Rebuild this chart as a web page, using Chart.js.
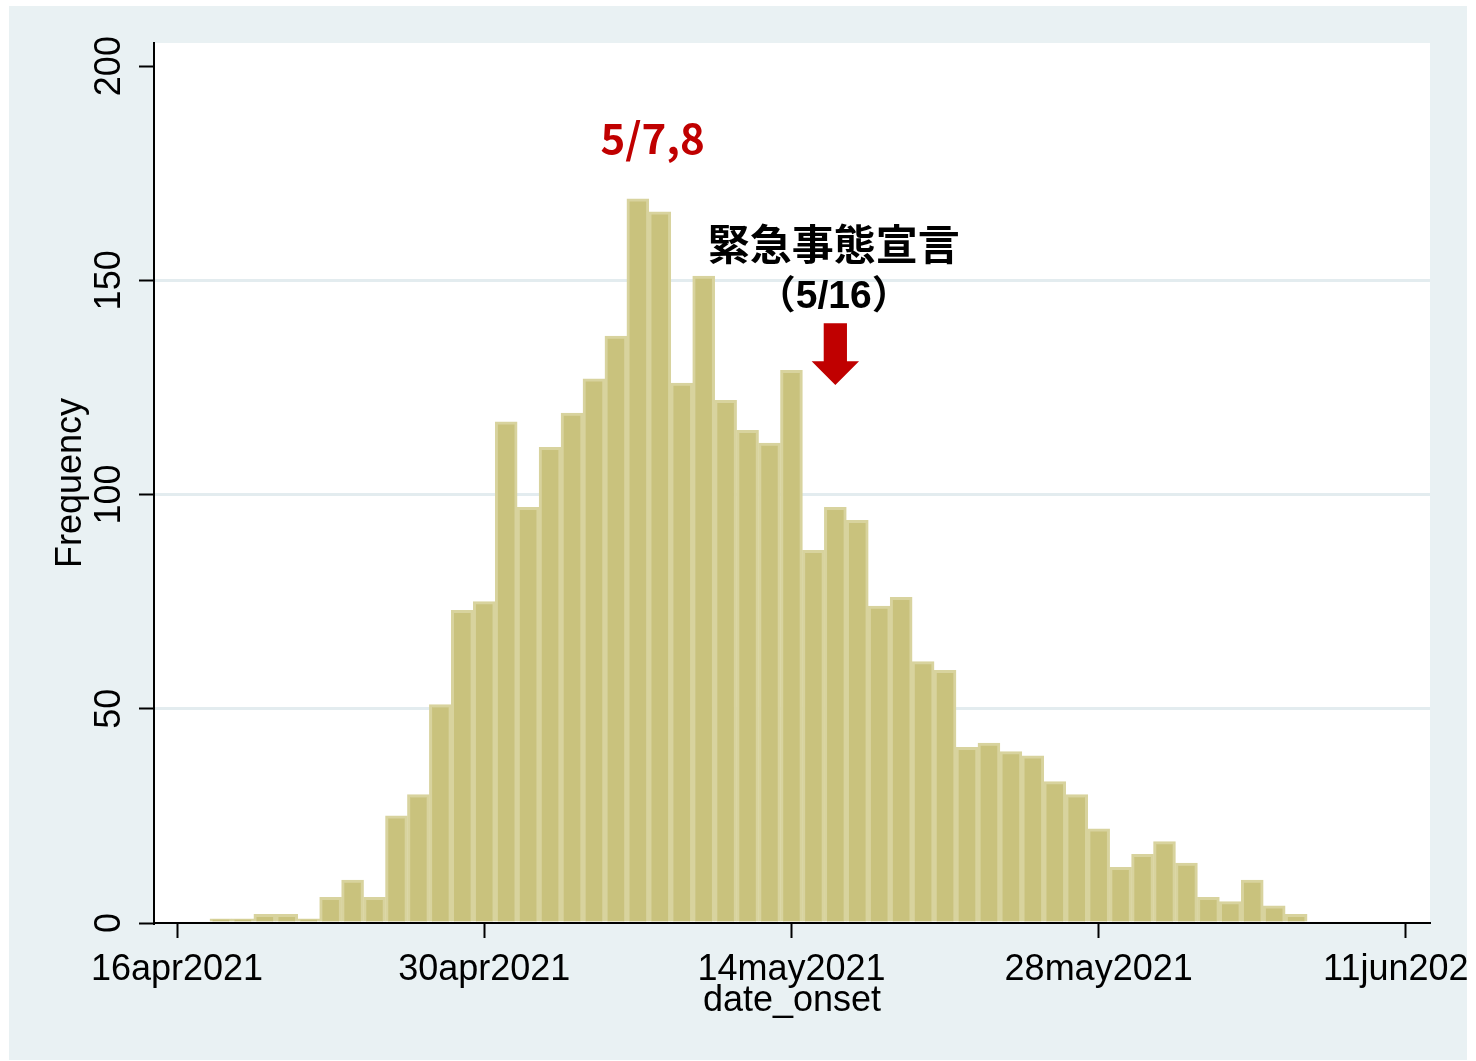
<!DOCTYPE html>
<html>
<head>
<meta charset="utf-8">
<script src="https://cdn.jsdelivr.net/npm/chart.js@4.4.1/dist/chart.umd.min.js"></script>
<style>
  html, body { margin: 0; padding: 0; background: #fff; }
  canvas { display: block; }
</style>
</head>
<body>
<canvas id="onsetChart" width="1476" height="1061"></canvas>
<script>
// daily counts by onset date
const onsetDates = [
  '2021-04-18', '2021-04-19', '2021-04-20', '2021-04-21', '2021-04-22', '2021-04-23', '2021-04-24',
  '2021-04-25', '2021-04-26', '2021-04-27', '2021-04-28', '2021-04-29', '2021-04-30',
  '2021-05-01', '2021-05-02', '2021-05-03', '2021-05-04', '2021-05-05', '2021-05-06', '2021-05-07',
  '2021-05-08', '2021-05-09', '2021-05-10', '2021-05-11', '2021-05-12', '2021-05-13', '2021-05-14',
  '2021-05-15', '2021-05-16', '2021-05-17', '2021-05-18', '2021-05-19', '2021-05-20', '2021-05-21',
  '2021-05-22', '2021-05-23', '2021-05-24', '2021-05-25', '2021-05-26', '2021-05-27', '2021-05-28',
  '2021-05-29', '2021-05-30', '2021-05-31', '2021-06-01', '2021-06-02', '2021-06-03', '2021-06-04',
  '2021-06-05', '2021-06-06'
];
const caseCounts = [
  1, 1, 2, 2, 1, 6, 10,
  6, 25, 30, 51, 73, 75,
  117, 97, 111, 119, 127, 137, 169,
  166, 126, 151, 122, 115, 112, 129,
  87, 97, 94, 74, 76, 61, 59,
  41, 42, 40, 39, 33, 30, 22,
  13, 16, 19, 14, 6, 5, 10,
  4, 2
];
const xTickDates = ['2021-04-16', '2021-04-30', '2021-05-14', '2021-05-28', '2021-06-11'];
const xTickLabels = ['16apr2021', '30apr2021', '14may2021', '28may2021', '11jun2021'];
const yTicks = [0, 50, 100, 150, 200];
const yGridValues = [50, 100, 150];

const origin = Date.parse('2021-04-16');
const dayOf = (iso) => Math.round((Date.parse(iso) - origin) / 86400000);
const xTickDays = xTickDates.map(dayOf);

// annotations, in (day, frequency) units
const peakNote = { text: '5/7,8', day: 21.67, value: 183.2 };
const declNote = { title: '緊急事態宣言', date: '（5/16）', day: 29.93, titleValue: 158.5, dateValue: 146.1 };
const declArrow = { day: dayOf('2021-05-16'), top: 140, neck: 131.1, tip: 125.6, shaftHalf: 0.53, headHalf: 1.08 };

const FONT = '"Liberation Sans", Arial, sans-serif';

const framePlugin = {
  id: 'frame',
  beforeDraw(chart) {
    const { ctx, chartArea: a, width, height } = chart;
    ctx.save();
    ctx.fillStyle = '#ffffff';
    ctx.fillRect(0, 0, width, height);
    ctx.fillStyle = '#e9f1f3';
    ctx.fillRect(9, 6, 1458, 1054);
    ctx.fillStyle = '#ffffff';
    ctx.fillRect(a.left, a.top, a.right - a.left, a.bottom - a.top);
    ctx.restore();
  },
  afterDraw(chart) {
    // graph region stops at x=1467, the last date label gets cut there
    const { ctx, width, height } = chart;
    ctx.save();
    ctx.fillStyle = '#ffffff';
    ctx.fillRect(1467, 0, width - 1467, height);
    ctx.restore();
  }
};

const notesPlugin = {
  id: 'notes',
  afterDatasetsDraw(chart) {
    const { ctx, scales: { x, y } } = chart;
    ctx.save();
    ctx.textAlign = 'center';
    ctx.textBaseline = 'middle';

    ctx.fillStyle = '#c00000';
    ctx.font = 'bold 42px "Noto Sans CJK JP", sans-serif';
    ctx.fillText(peakNote.text, x.getPixelForValue(peakNote.day), y.getPixelForValue(peakNote.value));

    ctx.fillStyle = '#000000';
    ctx.font = 'bold 42px "Noto Sans CJK JP", sans-serif';
    ctx.fillText(declNote.title, x.getPixelForValue(declNote.day), y.getPixelForValue(declNote.titleValue));
    ctx.font = 'bold 39px "Liberation Sans", "Noto Sans CJK JP", sans-serif';
    ctx.fillText(declNote.date, x.getPixelForValue(declNote.day), y.getPixelForValue(declNote.dateValue));

    const cx = x.getPixelForValue(declArrow.day);
    const sw = x.getPixelForValue(declArrow.day + declArrow.shaftHalf) - cx;
    const hw = x.getPixelForValue(declArrow.day + declArrow.headHalf) - cx;
    const yTop = y.getPixelForValue(declArrow.top);
    const yNeck = y.getPixelForValue(declArrow.neck);
    const yTip = y.getPixelForValue(declArrow.tip);
    ctx.fillStyle = '#c00000';
    ctx.beginPath();
    ctx.moveTo(cx - sw, yTop);
    ctx.lineTo(cx + sw, yTop);
    ctx.lineTo(cx + sw, yNeck);
    ctx.lineTo(cx + hw, yNeck);
    ctx.lineTo(cx, yTip);
    ctx.lineTo(cx - hw, yNeck);
    ctx.lineTo(cx - sw, yNeck);
    ctx.closePath();
    ctx.fill();
    ctx.restore();
  }
};

new Chart(document.getElementById('onsetChart'), {
  type: 'bar',
  data: {
    datasets: [{
      label: 'Frequency',
      data: onsetDates.map((d, i) => ({ x: dayOf(d), y: caseCounts[i] })),
      backgroundColor: '#c9c27d',
      borderColor: '#d8d39e',
      borderWidth: 3,
      barPercentage: 1,
      categoryPercentage: 1,
    }],
  },
  options: {
    responsive: false,
    devicePixelRatio: 1,
    animation: false,
    layout: { padding: { left: 0, right: 46, top: 43, bottom: 0 } },
    plugins: { legend: { display: false }, tooltip: { enabled: false } },
    scales: {
      x: {
        type: 'linear',
        offset: false,
        min: -1.05,
        max: 57.1,
        afterBuildTicks: (scale) => { scale.ticks = xTickDays.map((v) => ({ value: v })); },
        afterFit: (scale) => {
          scale.height = 138;
          scale.paddingLeft = 0; scale.paddingRight = 0;
        },
        ticks: {
          autoSkip: false,
          maxRotation: 0,
          padding: 10,
          color: '#000',
          font: { family: FONT, size: 36 },
          callback: (v) => xTickLabels[xTickDays.indexOf(v)],
        },
        grid: { offset: false, drawOnChartArea: false, tickLength: 15, tickColor: '#000', tickWidth: 2 },
        border: { color: '#000', width: 2 },
        title: { display: true, text: 'date_onset', color: '#000', font: { family: FONT, size: 36 }, padding: { top: 0, bottom: 38 } },
      },
      y: {
        min: 0,
        max: 205.4,
        afterBuildTicks: (scale) => { scale.ticks = yTicks.map((v) => ({ value: v })); },
        afterFit: (scale) => {
          scale.width = 154;
          scale.paddingTop = 0; scale.paddingBottom = 0;
        },
        ticks: {
          minRotation: 90,
          maxRotation: 90,
          crossAlign: 'center',
          padding: -1,
          color: '#000',
          font: { family: FONT, size: 36 },
        },
        grid: {
          color: (c) => (c.tick && yGridValues.includes(c.tick.value) ? '#e3ecef' : 'rgba(0,0,0,0)'),
          lineWidth: 3,
          tickLength: 15,
          tickColor: '#000',
          tickWidth: 2,
        },
        border: { color: '#000', width: 2 },
        title: { display: true, text: 'Frequency', color: '#000', font: { family: FONT, size: 36 }, padding: { top: 49, bottom: 0 } },
      },
    },
  },
  plugins: [framePlugin, notesPlugin],
});
</script>
</body>
</html>
